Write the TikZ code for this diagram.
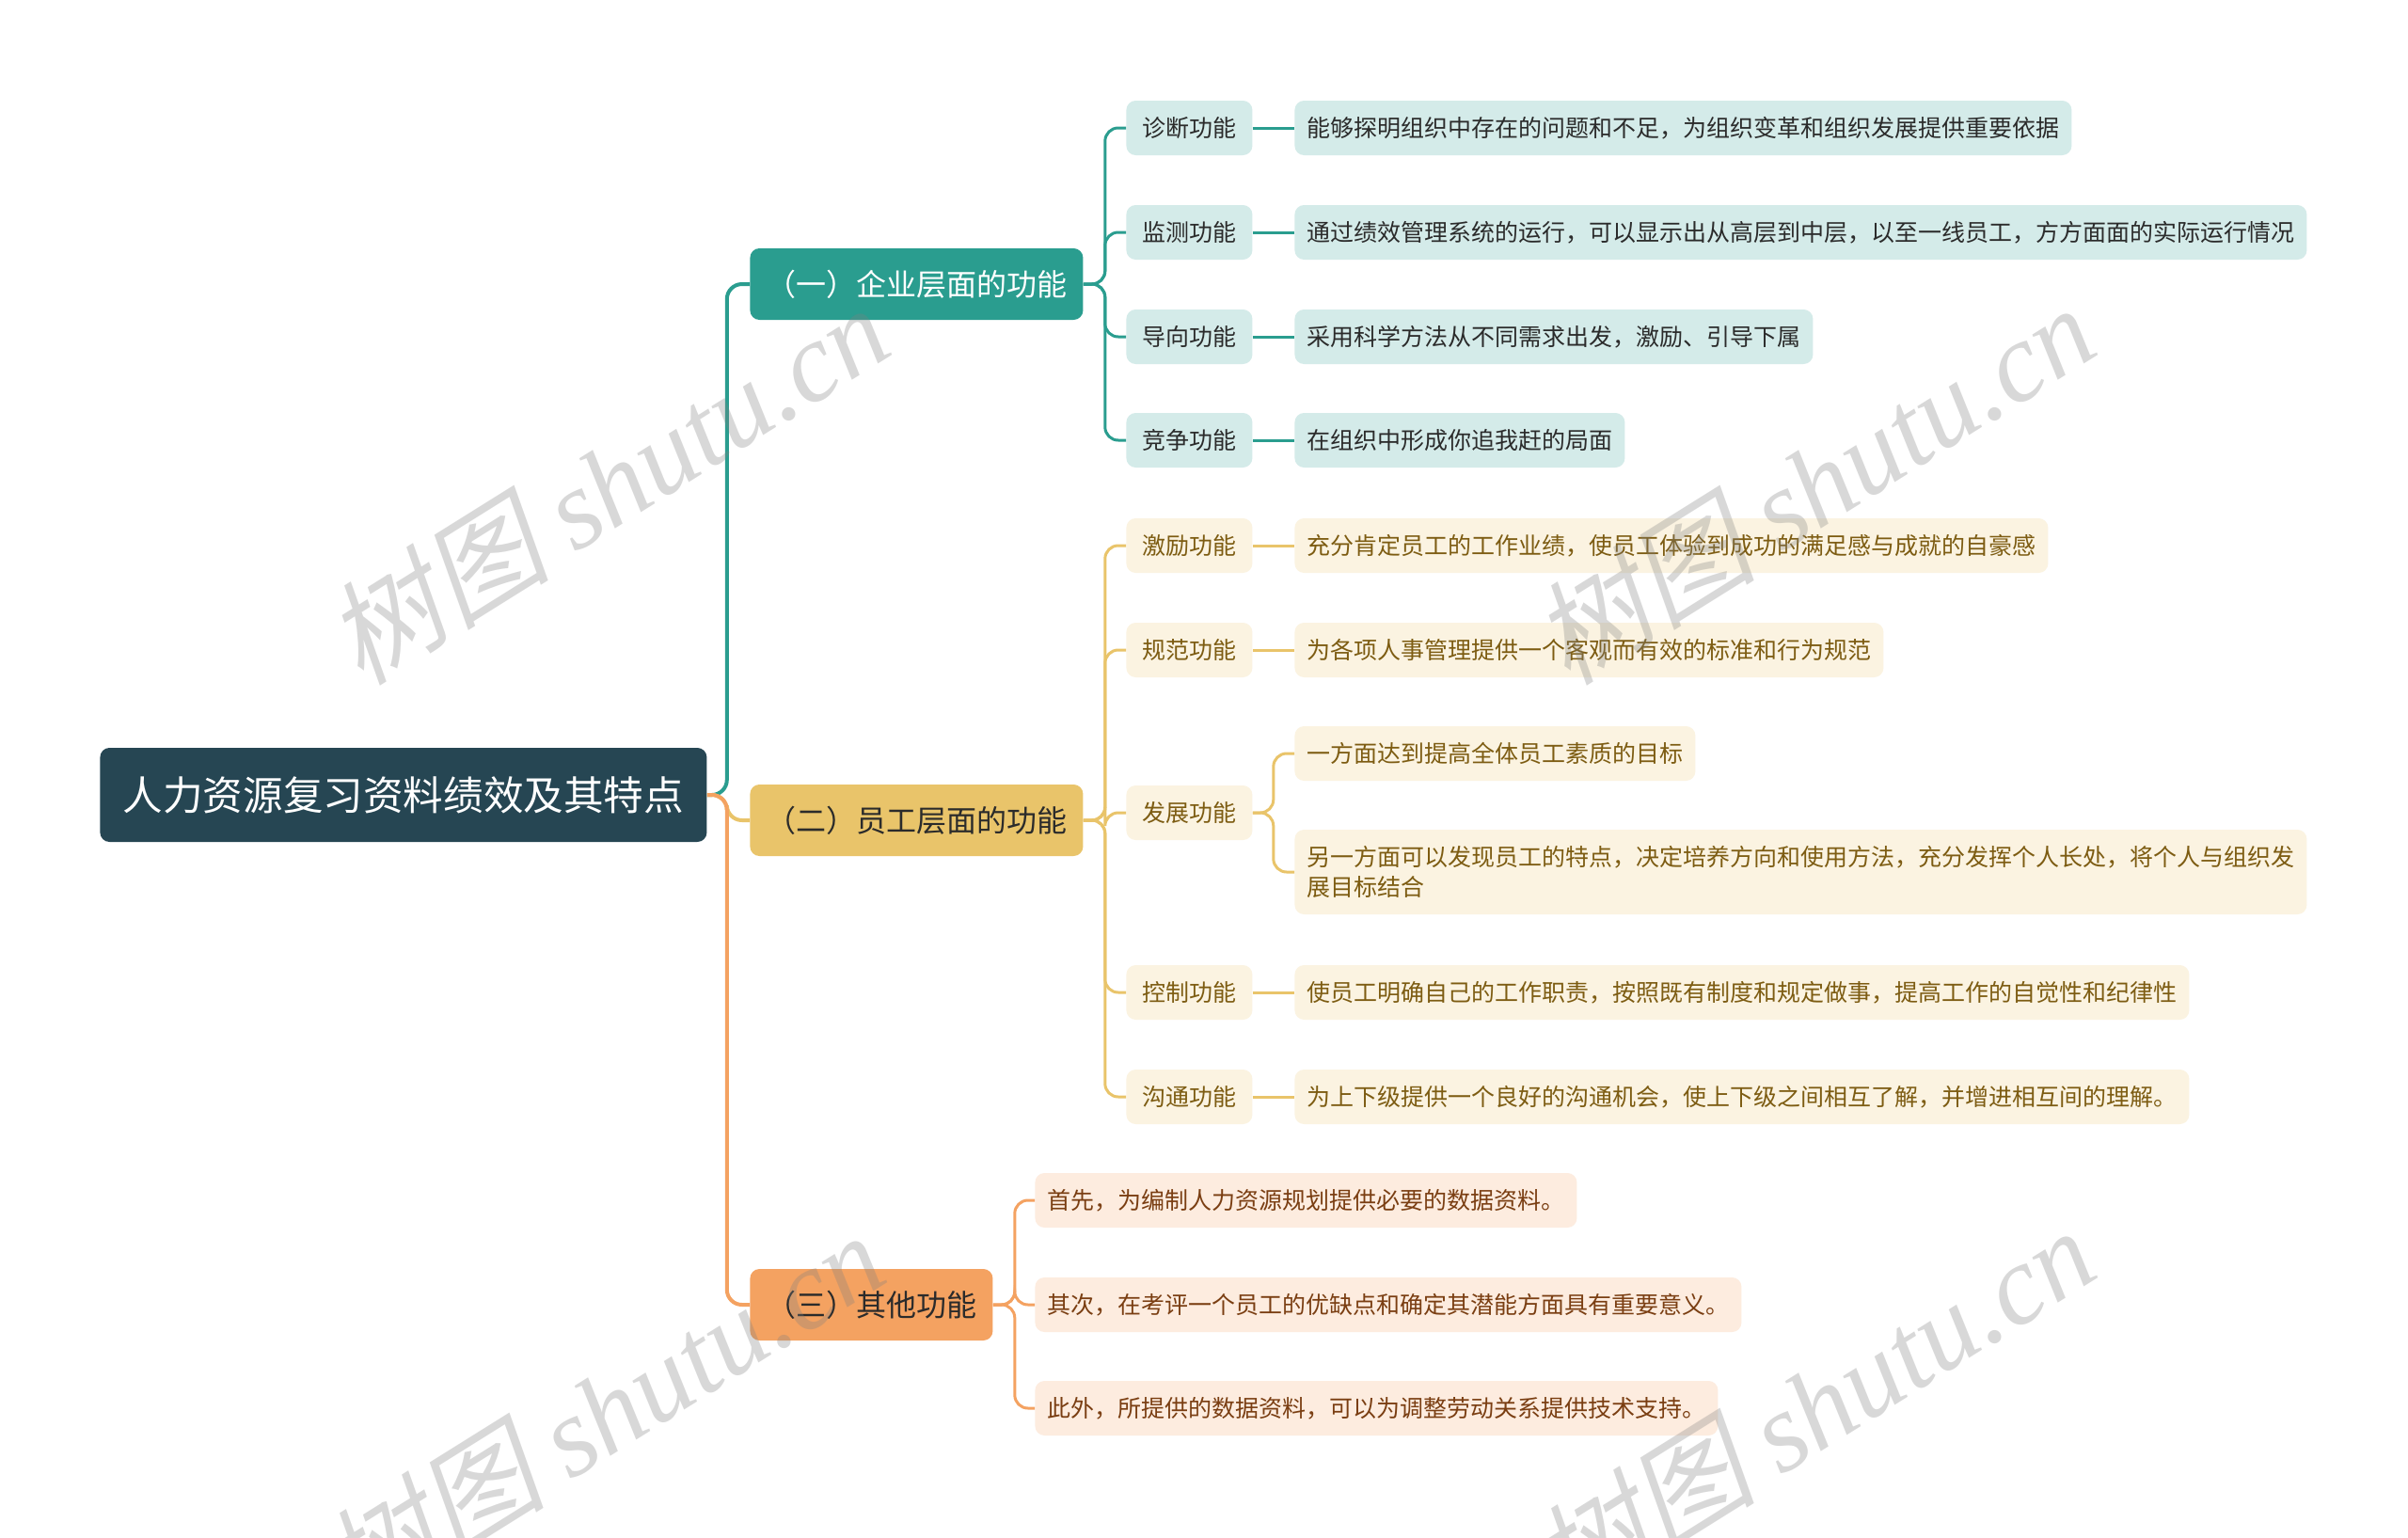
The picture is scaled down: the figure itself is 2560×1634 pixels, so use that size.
\documentclass[tikz,border=0pt]{standalone}
\usepackage{fontspec}
\setmainfont{Noto Sans CJK SC}
\newfontfamily\wmcjk[FakeSlant=0.22]{Noto Sans CJK SC}
\newfontfamily\wmlat{Liberation Serif}
\definecolor{cRoot}{HTML}{264653}
\definecolor{cTeal}{HTML}{2A9D8F}
\definecolor{cYel}{HTML}{E9C46A}
\definecolor{cOra}{HTML}{F4A261}
\definecolor{tDark}{HTML}{2B2B2B}
\definecolor{tYel}{HTML}{7D5C12}
\definecolor{tOra}{HTML}{7A3E12}
\tikzset{
  rootbox/.style={fill=cRoot, text=white, rounded corners=5pt, inner sep=0pt,
    minimum width=322.5pt, minimum height=50pt, anchor=west,
    font=\fontsize{21.3}{26}\selectfont},
  lonebox/.style={rounded corners=5pt, inner sep=0pt, minimum height=38pt,
    anchor=west, font=\fontsize{16}{20}\selectfont},
  ltwobox/.style={rounded corners=5pt, inner sep=0pt, minimum width=67pt,
    minimum height=29pt, anchor=west, font=\fontsize{12.5}{15.8}\selectfont},
  leafbox/.style={rounded corners=5pt, inner xsep=6.5pt, inner ysep=0pt,
    minimum height=29pt, anchor=west, align=left,
    font=\fontsize{12.5}{15.8}\selectfont},
  tealfill/.style={fill=cTeal!20, text=tDark},
  yelfill/.style={fill=cYel!20, text=tYel},
  orafill/.style={fill=cOra!20, text=tOra},
  trunk/.style={line width=2pt, rounded corners=8pt},
  twig/.style={line width=1.5pt, rounded corners=7pt},
  wmark/.style={text=gray, opacity=0.3, inner sep=0pt,
    font=\fontsize{60}{60}\selectfont},
}
\begin{document}
\begin{tikzpicture}[x=0.5pt, y=-0.5pt]
\useasboundingbox (0,0) rectangle (2560,1634);
\fill[white] (0,0) rectangle (2560,1634);

% root
\node[rootbox] (root) at (106,845) {人力资源复习资料绩效及其特点};

% level 1
\node[lonebox, fill=cTeal, text=white, minimum width=177pt] (A) at (797,302) {（一）企业层面的功能};
\node[lonebox, fill=cYel, text=tDark, minimum width=177pt] (B) at (797,872) {（二）员工层面的功能};
\node[lonebox, fill=cOra, text=tDark, minimum width=129pt] (C) at (797,1387) {（三）其他功能};

% branch 1
\node[ltwobox, tealfill] (a1) at (1197,136) {诊断功能};
\node[ltwobox, tealfill] (a2) at (1197,247) {监测功能};
\node[ltwobox, tealfill] (a3) at (1197,358) {导向功能};
\node[ltwobox, tealfill] (a4) at (1197,468) {竞争功能};
\node[leafbox, tealfill] (a1l) at (1376,136) {能够探明组织中存在的问题和不足，为组织变革和组织发展提供重要依据};
\node[leafbox, tealfill] (a2l) at (1376,247) {通过绩效管理系统的运行，可以显示出从高层到中层，以至一线员工，方方面面的实际运行情况};
\node[leafbox, tealfill] (a3l) at (1376,358) {采用科学方法从不同需求出发，激励、引导下属};
\node[leafbox, tealfill] (a4l) at (1376,468) {在组织中形成你追我赶的局面};

% branch 2
\node[ltwobox, yelfill] (b1) at (1197,580) {激励功能};
\node[ltwobox, yelfill] (b2) at (1197,691) {规范功能};
\node[ltwobox, yelfill] (b3) at (1197,864) {发展功能};
\node[ltwobox, yelfill] (b4) at (1197,1055) {控制功能};
\node[ltwobox, yelfill] (b5) at (1197,1166) {沟通功能};
\node[leafbox, yelfill] (b1l) at (1376,580) {充分肯定员工的工作业绩，使员工体验到成功的满足感与成就的自豪感};
\node[leafbox, yelfill] (b2l) at (1376,691) {为各项人事管理提供一个客观而有效的标准和行为规范};
\node[leafbox, yelfill] (b3l1) at (1376,801) {一方面达到提高全体员工素质的目标};
\node[leafbox, yelfill, minimum height=45pt] (b3l2) at (1376,927) {另一方面可以发现员工的特点，决定培养方向和使用方法，充分发挥个人长处，将个人与组织发\\展目标结合};
\node[leafbox, yelfill] (b4l) at (1376,1055) {使员工明确自己的工作职责，按照既有制度和规定做事，提高工作的自觉性和纪律性};
\node[leafbox, yelfill] (b5l) at (1376,1166) {为上下级提供一个良好的沟通机会，使上下级之间相互了解，并增进相互间的理解。};

% branch 3
\node[leafbox, orafill] (c1) at (1100,1276) {首先，为编制人力资源规划提供必要的数据资料。};
\node[leafbox, orafill] (c2) at (1100,1387) {其次，在考评一个员工的优缺点和确定其潜能方面具有重要意义。};
\node[leafbox, orafill] (c3) at (1100,1497) {此外，所提供的数据资料，可以为调整劳动关系提供技术支持。};

% trunk connectors
\draw[trunk, cTeal] (root.east) -- ++(21,0) |- (A.west);
\draw[trunk, cYel] (root.east) -- ++(21,0) |- (B.west);
\draw[trunk, cOra] (root.east) -- ++(21,0) |- (C.west);

% branch 1 connectors
\foreach \n in {a1,a2,a3,a4}{
  \draw[twig, cTeal] (A.east) -- ++(23,0) |- (\n.west);
  \draw[twig, cTeal] (\n.east) -- (\n l.west);
}
% branch 2 connectors
\foreach \n in {b1,b2,b3,b4,b5}{
  \draw[twig, cYel] (B.east) -- ++(23,0) |- (\n.west);
}
\foreach \n in {b1,b2,b4,b5}{
  \draw[twig, cYel] (\n.east) -- (\n l.west);
}
\draw[twig, cYel] (b3.east) -- ++(22,0) |- (b3l1.west);
\draw[twig, cYel] (b3.east) -- ++(22,0) |- (b3l2.west);
% branch 3 connectors
\foreach \n in {c1,c2,c3}{
  \draw[twig, cOra] (C.east) -- ++(23,0) |- (\n.west);
}

% watermarks
\begin{scope}
\clip (0,0) rectangle (2560,1634);
\node[wmark, rotate=32] (wm1) at (645,514) {{\wmcjk 树图} {\wmlat\itshape shutu.cn}};
\node[wmark, rotate=32] (wm2) at (1927,514) {{\wmcjk 树图} {\wmlat\itshape shutu.cn}};
\node[wmark, rotate=32] (wm3) at (640,1500) {{\wmcjk 树图} {\wmlat\itshape shutu.cn}};
\node[wmark, rotate=32] (wm4) at (1927,1495) {{\wmcjk 树图} {\wmlat\itshape shutu.cn}};
\end{scope}
\end{tikzpicture}
\end{document}
